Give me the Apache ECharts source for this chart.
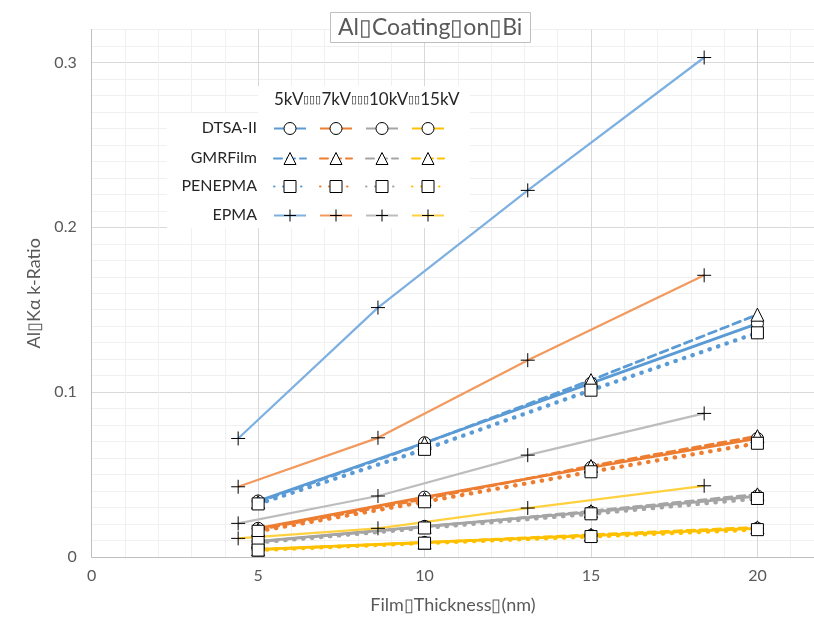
<!DOCTYPE html>
<html>
<head>
<meta charset="utf-8">
<script src="https://cdn.jsdelivr.net/npm/echarts@6/dist/echarts.min.js"></script>
<style>
  html, body { margin: 0; padding: 0; background: #fff; }
  #chart { width: 814px; height: 619px; }
</style>
</head>
<body>
<div id="chart"></div>
<script>
// film thickness (nm) for the simulated series and for the measured EPMA series
const thickness = [5, 10, 15, 20]
const epmaThickness = [4.4, 8.6, 13.1, 18.4]
const voltages = ['5kV', '7kV', '10kV', '15kV']
const methods = ['DTSA-II', 'GMRFilm', 'PENEPMA', 'EPMA']

// Al Ka k-ratio, one array per voltage
const dtsa5 = [0.0340, 0.0693, 0.1055, 0.1416]
const dtsa7 = [0.0174, 0.0363, 0.0543, 0.0719]
const dtsa10 = [0.0095, 0.0186, 0.0272, 0.0370]
const dtsa15 = [0.0046, 0.0088, 0.0130, 0.0174]

const gmr5 = [0.0333, 0.0690, 0.1073, 0.1470]
const gmr7 = [0.0166, 0.0352, 0.0552, 0.0733]
const gmr10 = [0.0093, 0.0183, 0.0278, 0.0380]
const gmr15 = [0.0045, 0.0087, 0.0135, 0.0180]

const pen5 = [0.0322, 0.0653, 0.1012, 0.1360]
const pen7 = [0.0156, 0.0335, 0.0517, 0.0690]
const pen10 = [0.0088, 0.0176, 0.0262, 0.0355]
const pen15 = [0.0042, 0.0084, 0.0124, 0.0166]

const epma5 = [0.0719, 0.1513, 0.2224, 0.3030]
const epma7 = [0.0426, 0.0723, 0.1194, 0.1709]
const epma10 = [0.0204, 0.0370, 0.0618, 0.0871]
const epma15 = [0.0113, 0.0174, 0.0297, 0.0432]

const lineColors = ['#5B9BD5', '#ED7D31', '#A5A5A5', '#FFC000']
const epmaColors = ['#7EB1E1', '#F29A5E', '#BDBDBD', '#FFD03F']

const font = 'Lato, "Open Sans", sans-serif'
const plusPath = 'path://M0,7L14,7M7,0L7,14'

const rows = [
  { method: 'DTSA-II', x: thickness, data: [dtsa5, dtsa7, dtsa10, dtsa15], symbol: 'circle', size: 12, line: 'solid', width: 2.75 },
  { method: 'GMRFilm', x: thickness, data: [gmr5, gmr7, gmr10, gmr15], symbol: 'triangle', size: 13, line: [8, 5], width: 2.75 },
  { method: 'PENEPMA', x: thickness, data: [pen5, pen7, pen10, pen15], symbol: 'rect', size: 12, line: [0.5, 8.5], width: 4.25 },
  { method: 'EPMA', x: epmaThickness, data: [epma5, epma7, epma10, epma15], symbol: plusPath, size: 14, line: 'solid', width: 2.25 }
]

const series = []
rows.forEach(row => {
  row.data.forEach((vals, i) => {
    series.push({
      name: row.method + ' ' + voltages[i],
      type: 'line',
      data: vals.map((v, j) => [row.x[j], v]),
      symbol: row.symbol,
      symbolSize: row.size,
      showAllSymbol: true,
      lineStyle: {
        color: row.method === 'EPMA' ? epmaColors[i] : lineColors[i],
        width: row.width,
        type: row.line,
        cap: row.line === 'solid' ? 'butt' : 'round'
      },
      itemStyle: { color: '#fff', borderColor: '#000', borderWidth: 1 },
      emphasis: { disabled: true }
    })
  })
})

const rowTops = [121, 151, 179, 208]
const legends = rows.map((row, r) => ({
  left: 273,
  top: rowTops[r],
  orient: 'horizontal',
  itemWidth: 32,
  itemHeight: 15,
  itemGap: 12,
  padding: 0,
  selectedMode: false,
  itemStyle: { borderWidth: 1, borderColor: '#000', color: '#fff' },
  formatter: () => '',
  data: voltages.map(v => row.method + ' ' + v)
}))

const chart = echarts.init(document.getElementById('chart'))
chart.setOption({
  animation: false,
  title: {
    text: 'Al▯Coating▯on▯Bi',
    left: 330,
    top: 12,
    padding: [4, 8, 4, 8],
    borderColor: '#bfbfbf',
    borderWidth: 1,
    backgroundColor: '#fff',
    textStyle: { fontFamily: font, fontSize: 23, fontWeight: 'normal', color: '#595959' }
  },
  legend: legends,
  grid: { left: 91.7, right: 0, top: 29.5, bottom: 62 },
  xAxis: {
    type: 'value',
    min: 0,
    max: 21.7,
    interval: 1,
    name: 'Film▯Thickness▯(nm)',
    nameLocation: 'middle',
    nameGap: 39,
    nameTextStyle: { fontFamily: font, fontSize: 18, color: '#595959' },
    axisLine: { lineStyle: { color: '#bfbfbf' } },
    axisTick: { show: false },
    axisLabel: {
      margin: 11,
      fontFamily: font,
      fontSize: 16,
      color: '#595959',
      showMaxLabel: false,
      formatter: v => (Math.round(v) % 5 === 0 ? String(Math.round(v)) : '')
    },
    splitLine: {
      lineStyle: { color: ['#d9d9d9', '#f0f0f0', '#f0f0f0', '#f0f0f0', '#f0f0f0'], width: 1 }
    }
  },
  yAxis: {
    type: 'value',
    min: 0,
    max: 0.32,
    interval: 0.01,
    name: 'Al▯Kα k-Ratio',
    nameLocation: 'middle',
    nameGap: 49,
    nameTextStyle: { fontFamily: font, fontSize: 18, color: '#595959' },
    axisLine: { show: true, lineStyle: { color: '#bfbfbf' } },
    axisTick: { show: false },
    axisLabel: {
      margin: 15,
      fontFamily: font,
      fontSize: 16,
      color: '#595959',
      formatter: v => {
        const r = Math.round(v * 100)
        return r % 10 === 0 ? String(r / 100) : ''
      }
    },
    splitLine: {
      lineStyle: {
        color: ['#d9d9d9', '#f0f0f0', '#f0f0f0', '#f0f0f0', '#f0f0f0',
          '#f0f0f0', '#f0f0f0', '#f0f0f0', '#f0f0f0', '#f0f0f0'],
        width: 1
      }
    }
  },
  graphic: [
    { type: 'rect', left: 258, top: 86, shape: { width: 212, height: 28 }, style: { fill: '#fff' }, z: 1 },
    { type: 'rect', left: 167, top: 113, shape: { width: 303, height: 115 }, style: { fill: '#fff' }, z: 1 },
    {
      type: 'text', left: 274, top: 91, z: 2,
      style: {
        text: '{a|5kV}{b|▯▯▯}{a|7kV}{b|▯▯▯}{a|10kV}{b|▯▯}{a|15kV}',
        rich: {
          a: { fontFamily: font, fontSize: 17, fill: '#262626' },
          b: { fontFamily: font, fontSize: 11, fill: '#262626' }
        }
      }
    }
  ].concat(methods.map((m, r) => ({
    type: 'text', right: 814 - 257, top: rowTops[r] - 1, z: 2,
    style: { text: m, fontFamily: font, fontSize: 16, fill: '#262626', align: 'right' }
  }))),
  series: series
})
</script>
</body>
</html>
